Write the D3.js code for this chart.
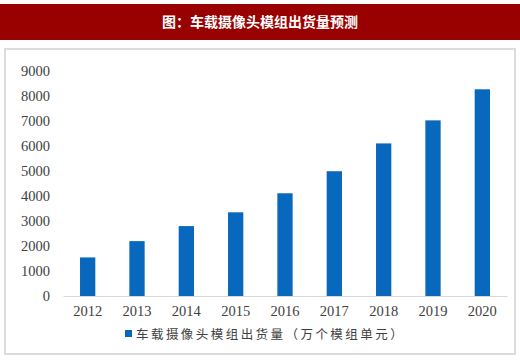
<!DOCTYPE html>
<html><head><meta charset="utf-8">
<script src="https://cdn.jsdelivr.net/npm/d3@7/dist/d3.min.js"></script>
<style>body{margin:0;background:#fff}svg{display:block}</style>
</head><body>
<script>
const title = "图：车载摄像头模组出货量预测";
const categories = ["2012","2013","2014","2015","2016","2017","2018","2019","2020"];
const values = [1540, 2190, 2790, 3340, 4100, 4980, 6090, 7010, 8250];
const yTicks = [0,1000,2000,3000,4000,5000,6000,7000,8000,9000];
const legendLabel = "车载摄像头模组出货量（万个模组单元）";

const W = 520, H = 360;
const svg = d3.select("body").append("svg").attr("width", W).attr("height", H);

svg.append("rect").attr("x",0).attr("y",4).attr("width",W).attr("height",36).attr("fill","#990000");
svg.append("text").attr("x",260).attr("y",27).attr("text-anchor","middle")
  .attr("fill","#fff").attr("font-size",14).attr("font-weight","bold")
  .attr("font-family","'Noto Sans CJK SC', sans-serif").text(title);

svg.append("rect").attr("x",5).attr("y",49).attr("width",510).attr("height",305)
  .attr("fill","#fff").attr("stroke","#dcdcdc").attr("stroke-width",2);

const x = d3.scaleBand().domain(categories).range([63,507]).paddingInner(0.69).paddingOuter(0.345);
const y = d3.scaleLinear().domain([0,9000]).range([296,70.5]);

svg.selectAll("rect.bar").data(values).join("rect").attr("class","bar")
  .attr("x",(d,i)=>x(categories[i])).attr("width",x.bandwidth())
  .attr("y",d=>y(d)).attr("height",d=>y(0)-y(d)).attr("fill","#0868bd");

const yAxis = svg.append("g").attr("transform","translate(50,0)")
  .call(d3.axisLeft(y).tickValues(yTicks).tickSize(0).tickPadding(0).tickFormat(d3.format("d")));
yAxis.select(".domain").remove();
yAxis.selectAll("text").attr("font-family","'Liberation Serif', serif").attr("font-size",14.5).attr("fill","#404040");

const xAxis = svg.append("g").attr("transform","translate(0,296)")
  .call(d3.axisBottom(x).tickSize(0).tickPadding(10));
xAxis.select(".domain").attr("stroke","#d9d9d9");
xAxis.selectAll("text").attr("font-family","'Liberation Serif', serif").attr("font-size",14.5).attr("fill","#404040");

svg.append("rect").attr("x",125).attr("y",330).attr("width",7).attr("height",7).attr("fill","#0868bd");
svg.append("text").attr("x",136).attr("y",338.5).attr("font-size",12.5).attr("letter-spacing",2.45)
  .attr("fill","#404040").attr("font-family","'Noto Sans CJK SC', sans-serif").text(legendLabel);
</script>
</body></html>
